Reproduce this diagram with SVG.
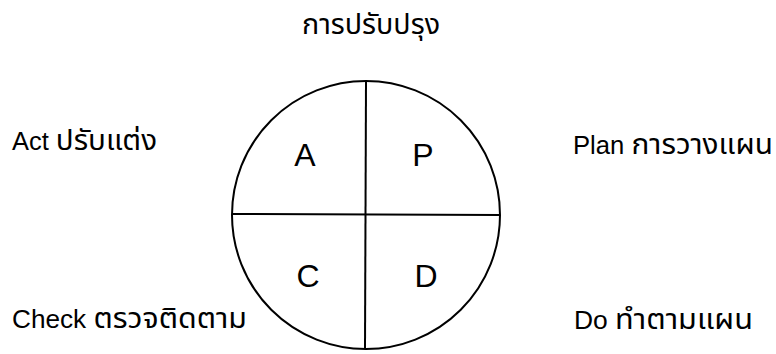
<svg xmlns="http://www.w3.org/2000/svg" width="776" height="354" viewBox="0 0 776 354">
<style>
text{font-family:"Liberation Sans","Noto Sans Thai","Noto Sans",sans-serif;fill:#000}
.lbl{font-size:25px}
.th{font-size:29px}
.q{font-size:32px;text-anchor:middle}
.ln{stroke:#000;stroke-width:2;fill:none}
</style>
<rect width="776" height="354" fill="#fff"/>
<g id="title"><text class="lbl" x="302" y="34" textLength="138" lengthAdjust="spacingAndGlyphs"><tspan class="th">การปรับปรุง</tspan></text></g>
<g id="circle">
<circle class="ln" cx="366" cy="215" r="134"/>
</g>
<g id="connectors">
<line class="ln" x1="366" y1="81" x2="365" y2="349"/>
<line class="ln" x1="232" y1="214" x2="500" y2="215"/>
</g>
<g id="A"><text class="q" x="305" y="166">A</text></g>
<g id="P"><text class="q" x="423" y="166">P</text></g>
<g id="C"><text class="q" x="308" y="287">C</text></g>
<g id="D"><text class="q" x="426" y="287">D</text></g>
<g id="act"><text class="lbl" x="12" y="150" textLength="145" lengthAdjust="spacingAndGlyphs">Act <tspan class="th">ปรับแต่ง</tspan></text></g>
<g id="plan"><text class="lbl" x="573" y="154" textLength="200" lengthAdjust="spacingAndGlyphs">Plan <tspan class="th">การวางแผน</tspan></text></g>
<g id="check"><text class="lbl" x="12" y="328" textLength="235" lengthAdjust="spacingAndGlyphs">Check <tspan class="th">ตรวจติดตาม</tspan></text></g>
<g id="do"><text class="lbl" x="574" y="329" textLength="179" lengthAdjust="spacingAndGlyphs">Do <tspan class="th">ทำตามแผน</tspan></text></g>
</svg>
